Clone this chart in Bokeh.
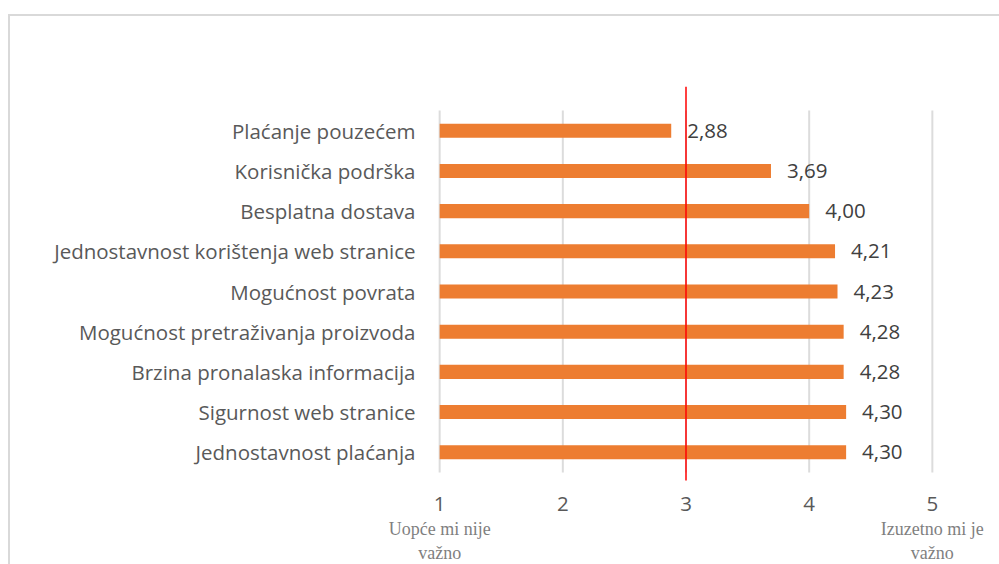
from bokeh.plotting import figure
from bokeh.models import FactorRange, Range1d, FixedTicker, ColumnDataSource, LinearAxis
from bokeh.transform import dodge
from bokeh.core.properties import value
from bokeh.embed import file_html
from bokeh.resources import INLINE

# ---- data (top to bottom as shown) ----
categories = [
    "Plaćanje pouzećem",
    "Korisnička podrška",
    "Besplatna dostava",
    "Jednostavnost korištenja web stranice",
    "Mogućnost povrata",
    "Mogućnost pretraživanja proizvoda",
    "Brzina pronalaska informacija",
    "Sigurnost web stranice",
    "Jednostavnost plaćanja",
]
values = [2.88, 3.69, 4.00, 4.21, 4.23, 4.28, 4.28, 4.30, 4.30]
scale_ticks = [1, 2, 3, 4, 5]
scale_min = 1
reference_value = 3
low_label = ["Uopće mi nije", "važno"]
high_label = ["Izuzetno mi je", "važno"]

ORANGE = "#ED7D31"
GRID = "#dcdcdc"
TXT = "#595959"
FONT = "Open Sans"
FS = "20.5px"

factors = list(reversed(categories))
bottom_cat = factors[0]
top_cat = factors[-1]

p = figure(
    y_range=FactorRange(factors=factors, range_padding=0.6, range_padding_units="absolute",
                        factor_padding=0),
    x_range=Range1d(0.95, 5.05),
    frame_width=505, frame_height=410,
    min_border_left=433, min_border_right=61, min_border_top=86, min_border_bottom=68,
    output_backend="svg", toolbar_location=None,
    background_fill_color=None, border_fill_color=None,
    styles={"box-shadow": "inset 8px 0 0 0 #ffffff, inset 0 14px 0 0 #ffffff, "
                          "inset 10px 0 0 0 #d9d9d9, inset 0 16px 0 0 #d9d9d9"},
)
p.outline_line_color = None
p.xgrid.visible = False
p.ygrid.visible = False

# gridlines spanning the category band
grid_src = ColumnDataSource(dict(gx=scale_ticks, y0=[bottom_cat] * len(scale_ticks),
                                 y1=[top_cat] * len(scale_ticks)))
p.segment(x0="gx", x1="gx", y0=dodge("y0", -0.5, range=p.y_range),
          y1=dodge("y1", 0.5, range=p.y_range), source=grid_src,
          line_color=GRID, line_width=2)

src = ColumnDataSource(dict(cat=categories, val=values,
                            lbl=[f"{v:.2f}".replace(".", ",") for v in values],
                            left=[scale_min] * len(values)))
p.hbar(y="cat", left="left", right="val", height=0.35, source=src,
       fill_color=ORANGE, line_color=None)
p.text(x="val", y="cat", text="lbl", source=src, x_offset=16,
       text_align="left", text_baseline="middle",
       text_font=value(FONT), text_font_size=FS, text_color="#404040")

# red reference line
ref_src = ColumnDataSource(dict(x=[reference_value], y0=[bottom_cat], y1=[top_cat]))
p.segment(x0="x", x1="x", y0=dodge("y0", -0.7, range=p.y_range),
          y1=dodge("y1", 1.1, range=p.y_range), source=ref_src,
          line_color="#ff0000", line_width=1.5)

# axes
p.xaxis.ticker = FixedTicker(ticks=scale_ticks)
for ax in (p.xaxis, p.yaxis):
    ax.axis_line_color = None
    ax.major_tick_line_color = None
    ax.minor_tick_line_color = None
    ax.major_label_text_font = FONT
    ax.major_label_text_font_size = FS
    ax.major_label_text_color = TXT
p.xaxis.major_label_standoff = -6
p.yaxis.major_label_standoff = 12

# end-of-scale descriptions as two extra label rows
ends = [scale_ticks[0], scale_ticks[-1]]
for row, standoff in enumerate([-1, -5]):
    ax = LinearAxis(ticker=FixedTicker(ticks=ends),
                    major_label_overrides={ends[0]: low_label[row], ends[1]: high_label[row]},
                    axis_line_color=None, major_tick_line_color=None, minor_tick_line_color=None,
                    major_label_text_font="Liberation Serif", major_label_text_font_size="18px",
                    major_label_text_color="#7f7f7f", major_label_standoff=standoff)
    p.add_layout(ax, "below")

open("out.html", "w").write(file_html(p, INLINE))
